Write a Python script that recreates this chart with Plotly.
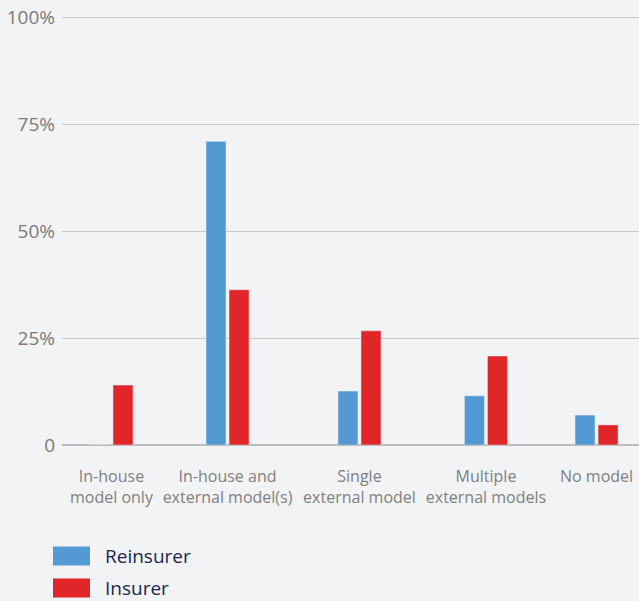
import plotly.graph_objects as go

# Share of respondents by modelling approach
categories = [
    "In-house<br>model only",
    "In-house and<br>external model(s)",
    "Single<br>external model",
    "Multiple<br>external models",
    "No model",
]
series_names = ["Reinsurer", "Insurer"]
reinsurer = [0, 71, 12.6, 11.5, 7]
insurer = [14, 36.3, 26.7, 20.8, 4.7]
y_ticks = [0, 25, 50, 75, 100]
y_tick_labels = ["0", "25%", "50%", "75%", "100%"]

# Horizontal slot of each category group on the x axis (layout only)
slots = [0, 0.957, 2.045, 3.088, 4.0]
BAR_W = 0.165
GAP = 0.025

BLUE = "#5599d4"
RED = "#e02628"
BG = "#f2f3f5"
W, H = 639, 601

fig = go.Figure()
fig.add_trace(go.Bar(name=series_names[0], x=slots, y=reinsurer,
                     width=BAR_W, offset=-BAR_W - GAP / 2,
                     marker_color=BLUE, hovertext=categories))
fig.add_trace(go.Bar(name=series_names[1], x=slots, y=insurer,
                     width=BAR_W, offset=GAP / 2,
                     marker_color=RED, hovertext=categories))

# Legend below the chart: wide colour keys with labels beside them
PX_X, PX_Y = 577, 432.3
key_x0, key_x1, key_h = 53, 90, 19
rows = [(series_names[0], BLUE, 556), (series_names[1], RED, 588)]
for label, color, cy in rows:
    fig.add_shape(type="rect", xref="paper", yref="paper",
                  x0=(key_x0 - 62) / PX_X, x1=(key_x1 - 62) / PX_X,
                  y0=(445 - cy - key_h / 2) / PX_Y,
                  y1=(445 - cy + key_h / 2) / PX_Y,
                  fillcolor=color, line_width=0, layer="above")
    fig.add_annotation(text=label, xref="paper", yref="paper",
                       x=(103 - 62) / PX_X, y=(445 - cy) / PX_Y,
                       xanchor="left", yanchor="middle", showarrow=False,
                       font=dict(size=19, color="#23254d"))

fig.update_layout(
    width=W, height=H,
    margin=dict(l=62, r=0, t=13, b=156, autoexpand=False),
    paper_bgcolor=BG, plot_bgcolor=BG,
    font=dict(family="Open Sans, sans-serif", color="#7a7a7a", size=16),
    showlegend=False,
    xaxis=dict(range=[-0.408, 4.35], tickvals=slots, ticktext=categories,
               showgrid=False, showline=False, zeroline=False,
               ticks="", tickangle=0, tickfont=dict(size=16, color="#808080"),
               ticklabelstandoff=20, automargin=False, fixedrange=True),
    yaxis=dict(range=[0, 101], tickvals=y_ticks, ticktext=y_tick_labels,
               showgrid=True, gridcolor="#c8c8c8", gridwidth=1,
               zeroline=True, zerolinecolor="#bdbdbd", zerolinewidth=1.5,
               showline=False, ticks="", ticklabelstandoff=6,
               automargin=False,
               tickfont=dict(size=19, color="#7a7a7a"), fixedrange=True),
)

fig.write_html("out.html")
